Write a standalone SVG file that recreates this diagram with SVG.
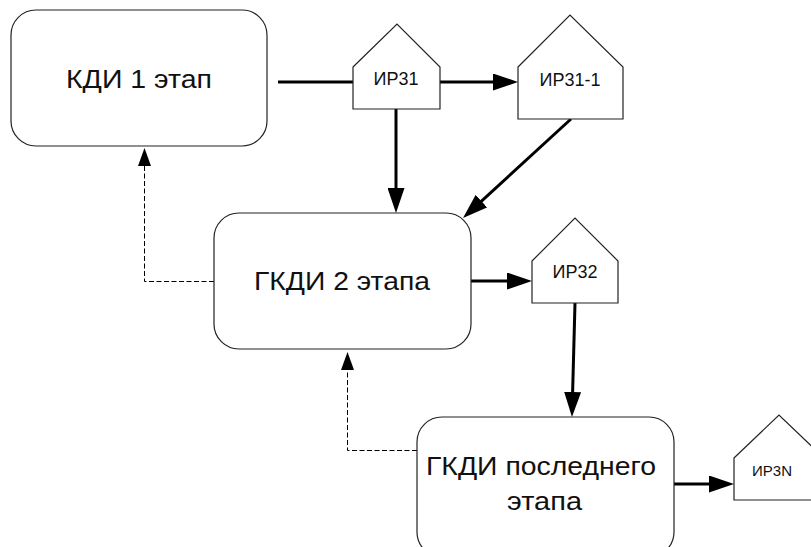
<svg xmlns="http://www.w3.org/2000/svg" width="811" height="547" viewBox="0 0 811 547">
  <style>
    .box { fill: #ffffff; stroke: #222222; stroke-width: 1.2; }
    .doc { fill: #ffffff; stroke: #222222; stroke-width: 1.2; }
    .big { font-family: "Liberation Sans", Arial, sans-serif; font-size: 25px; fill: #111111; }
    .small { font-family: "Liberation Sans", Arial, sans-serif; font-size: 18px; fill: #111111; text-anchor: middle; }
    .flow { fill: none; stroke: #000000; stroke-width: 3; }
    .back { fill: none; stroke: #000000; stroke-width: 1; stroke-dasharray: 5 2.5; }
  </style>
  <defs>
    <marker id="head" markerUnits="userSpaceOnUse" markerWidth="25" markerHeight="17" refX="1" refY="8.5" orient="auto">
      <path d="M0,0 L25,8.5 L0,17 z" fill="#000000"/>
    </marker>
    <marker id="headSmall" markerUnits="userSpaceOnUse" markerWidth="18" markerHeight="13" refX="1" refY="6.5" orient="auto">
      <path d="M0,0 L18,6.5 L0,13 z" fill="#000000"/>
    </marker>
  </defs>

  <!-- connectors -->
  <g id="connectors">
    <line class="flow" x1="278" y1="82" x2="353" y2="82"/>
    <line class="flow" x1="440" y1="82" x2="494" y2="82" marker-end="url(#head)"/>
    <line class="flow" x1="396" y1="109" x2="396" y2="189" marker-end="url(#head)"/>
    <line class="flow" x1="571" y1="119" x2="480.7" y2="201.8" marker-end="url(#head)"/>
    <line class="flow" x1="471" y1="281" x2="508" y2="281" marker-end="url(#head)"/>
    <line class="flow" x1="575" y1="303" x2="572.6" y2="393" marker-end="url(#head)"/>
    <line class="flow" x1="674" y1="484" x2="710" y2="484" marker-end="url(#head)"/>
    <polyline class="back" points="214,281.5 144.5,281.5 144.5,165" marker-end="url(#headSmall)"/>
    <polyline class="back" points="417,450.5 347.5,450.5 347.5,369" marker-end="url(#headSmall)"/>
  </g>

  <!-- process stages -->
  <g id="kdi1">
    <rect class="box" x="11" y="10" width="256" height="136" rx="25" ry="25"/>
    <text class="big" x="66" y="88" textLength="146" lengthAdjust="spacingAndGlyphs">КДИ 1 этап</text>
  </g>
  <g id="gkdi2">
    <rect class="box" x="214" y="213" width="257" height="136" rx="25" ry="25"/>
    <text class="big" x="254" y="290" textLength="176" lengthAdjust="spacingAndGlyphs">ГКДИ 2 этапа</text>
  </g>
  <g id="gkdiLast">
    <rect class="box" x="417" y="417" width="257" height="140" rx="25" ry="25"/>
    <text class="big" x="426" y="475" textLength="230" lengthAdjust="spacingAndGlyphs">ГКДИ последнего</text>
    <text class="big" x="507" y="510" textLength="75" lengthAdjust="spacingAndGlyphs">этапа</text>
  </g>

  <!-- result documents -->
  <g id="irz1">
    <polygon class="doc" points="353,67 397,24 440,67 440,109 353,109"/>
    <text class="small" x="396" y="85">ИР31</text>
  </g>
  <g id="irz1-1">
    <polygon class="doc" points="518,67 570,15 623,67 623,119 518,119"/>
    <text class="small" x="570" y="86">ИР31-1</text>
  </g>
  <g id="irz2">
    <polygon class="doc" points="532,261 575,218 618,261 618,303 532,303"/>
    <text class="small" x="575" y="278">ИР32</text>
  </g>
  <g id="irzN">
    <polygon class="doc" points="734,458 779,415 824,458 824,500 734,500"/>
    <text class="small" x="772" y="476" style="font-size:15px">ИР3N</text>
  </g>
</svg>
